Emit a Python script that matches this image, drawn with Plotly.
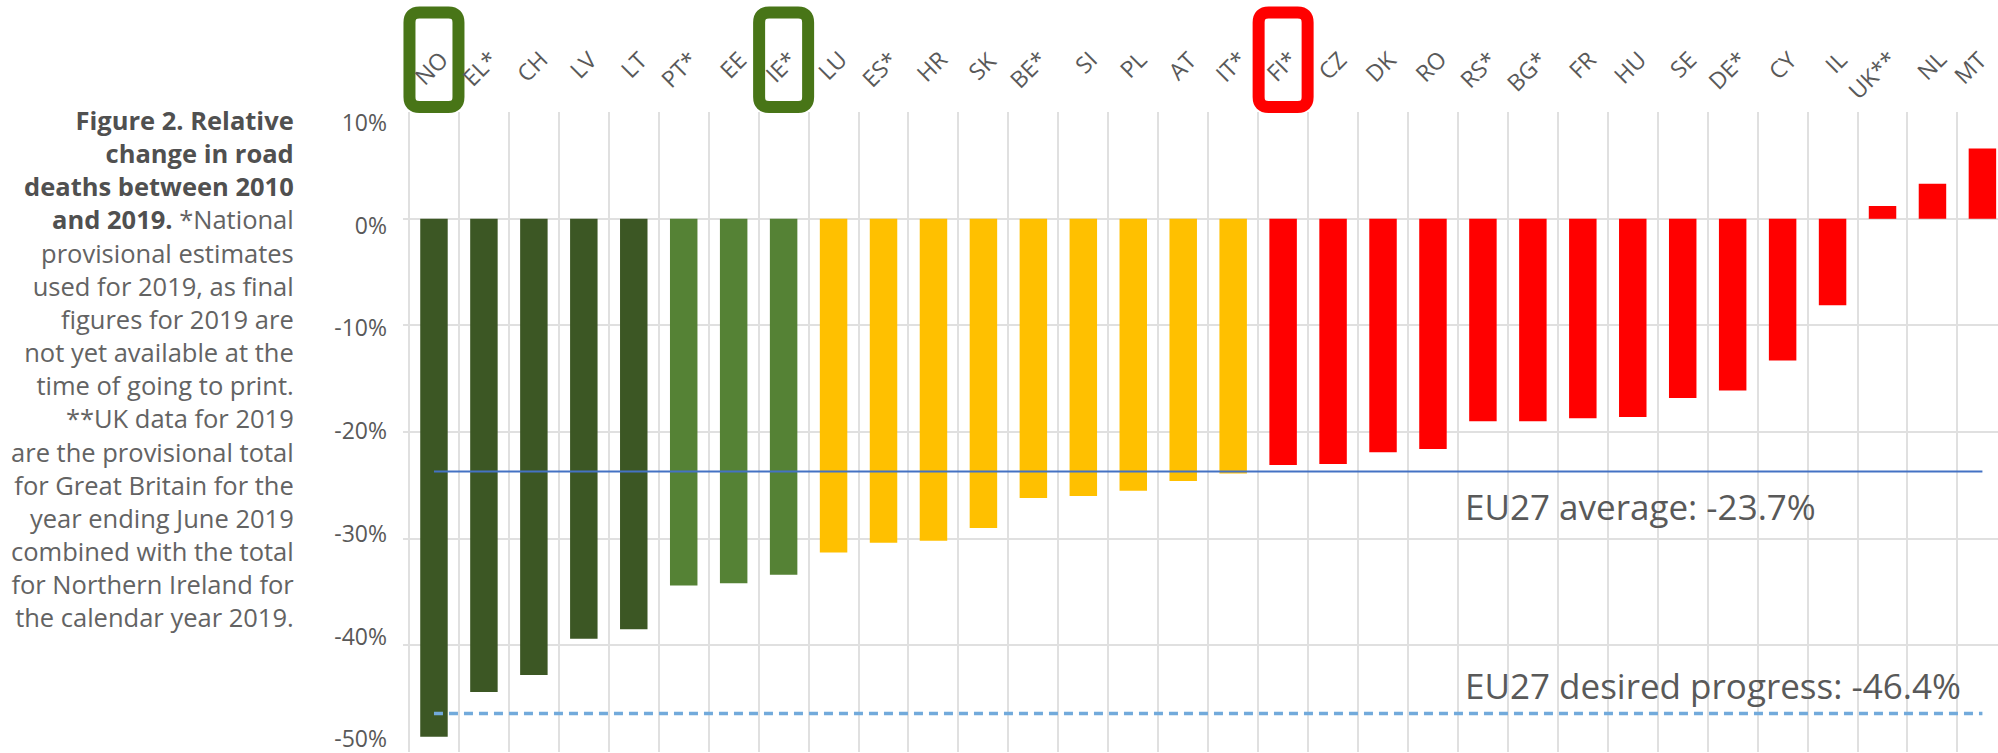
import plotly.graph_objects as go

# ---------------- data ----------------
categories = ["NO", "EL*", "CH", "LV", "LT", "PT*", "EE", "IE*", "LU", "ES*", "HR", "SK",
              "BE*", "SI", "PL", "AT", "IT*", "FI*", "CZ", "DK", "RO", "RS*", "BG*", "FR",
              "HU", "SE", "DE*", "CY", "IL", "UK**", "NL", "MT"]
change_pct = [-48.6, -44.4, -42.8, -39.4, -38.5, -34.4, -34.2, -33.4, -31.3, -30.4, -30.2, -29.0,
              -26.2, -26.0, -25.5, -24.6, -23.9, -23.1, -23.0, -21.9, -21.6, -19.0, -19.0, -18.7,
              -18.6, -16.8, -16.1, -13.3, -8.1, 1.2, 3.3, 6.6]
performance_group = ["top"] * 5 + ["good"] * 3 + ["middle"] * 9 + ["low"] * 15
eu27_average = -23.7
eu27_desired = -46.4
highlight_green = ["NO", "IE*"]
highlight_red = ["FI*"]
y_tick_values = [10, 0, -10, -20, -30, -40, -50]
y_tick_labels = ["10%", "0%", "-10%", "-20%", "-30%", "-40%", "-50%"]

title_bold = ["Figure 2. Relative", "change in road", "deaths between 2010", "and 2019."]
title_rest_first = " *National"
title_lines = ["provisional estimates", "used for 2019, as final", "figures for 2019 are",
               "not yet available at the", "time of going to print.", "**UK data for 2019",
               "are the provisional total", "for Great Britain for the", "year ending June 2019",
               "combined with the total", "for Northern Ireland for", "the calendar year 2019."]

# ---------------- styles ----------------
group_colors = {"top": "#3C5724", "good": "#558235", "middle": "#FFC000", "low": "#FF0000"}
FONT = "Open Sans"
GREY = "#595959"
GRID = "#E0E0E0"

W, H = 1998, 753
ML, MR, MT_, MB = 403, 0, 112, 1
PX_PER_CAT = 49.95
x_start = -0.62
x_end = x_start + (W - ML - MR) / PX_PER_CAT

bar_colors = [group_colors[g] for g in performance_group]

fig = go.Figure()
fig.add_trace(go.Bar(x=categories, y=change_pct, marker=dict(color=bar_colors, line=dict(width=0)),
                     showlegend=False, hoverinfo="x+y"))
fig.add_trace(go.Scatter(x=categories, y=[eu27_average] * len(categories), mode="lines",
                         line=dict(color="#4472C4", width=2), showlegend=False, hoverinfo="skip"))
fig.add_trace(go.Scatter(x=categories, y=[eu27_desired] * len(categories), mode="lines",
                         line=dict(color="#72AADB", width=3.5, dash="9px,6px"),
                         showlegend=False, hoverinfo="skip"))
# carrier trace for the label axis
fig.add_trace(go.Scatter(x=categories, y=[None] * len(categories), yaxis="y2", mode="lines",
                         showlegend=False, hoverinfo="skip"))

annotations = []
# rotated category labels along the top (the last one is kept inside the page edge)
for i, c in enumerate(categories):
    annotations.append(dict(x=c, xref="x", y=1, yref="paper", text=c, showarrow=False,
                            textangle=-45, xanchor="right", yanchor="top",
                            xshift=23 if i < len(categories) - 1 else 14, yshift=71,
                            font=dict(family=FONT, size=23, color=GREY)))

# side caption
bold_part = "<br>".join(title_bold)
caption = ("<span style='color:#505050'><b>" + bold_part + "</b></span>" + title_rest_first +
           "<br>" + "<br>".join(title_lines))
annotations.append(dict(x=(296 - ML) / (W - ML - MR), xref="paper", y=1, yref="paper",
                        yshift=11, xanchor="right", yanchor="top", align="right",
                        text=caption, showarrow=False,
                        font=dict(family=FONT, size=25.5, color="#636363")))

# reference line labels
annotations.append(dict(x=(1463 - ML) / (W - ML - MR), xref="paper", y=eu27_average, yref="y",
                        xanchor="left", yanchor="middle", yshift=-35, showarrow=False,
                        text="EU27 average: -23.7%",
                        font=dict(family=FONT, size=35, color=GREY)))
annotations.append(dict(x=(1463 - ML) / (W - ML - MR), xref="paper", y=eu27_desired, yref="y",
                        xanchor="left", yanchor="middle", yshift=28, showarrow=False,
                        text="EU27 desired progress: -46.4%",
                        font=dict(family=FONT, size=35, color=GREY)))


def rounded_rect(x0, y0, x1, y1, r):
    return (f"M {x0 + r},{y1} L {x1 - r},{y1} Q {x1},{y1} {x1},{y1 - r} "
            f"L {x1},{y0 + r} Q {x1},{y0} {x1 - r},{y0} L {x0 + r},{y0} "
            f"Q {x0},{y0} {x0},{y0 + r} L {x0},{y1 - r} Q {x0},{y1} {x0 + r},{y1} Z")


shapes = []
for cats, col in ((highlight_green, "#487517"), (highlight_red, "#FF0000")):
    for c in cats:
        shapes.append(dict(type="path", xref="x", xsizemode="pixel", xanchor=c,
                           yref="paper", ysizemode="pixel", yanchor=1,
                           path=rounded_rect(-24.5, 5, 24.5, 99.5, 10),
                           line=dict(color=col, width=12), fillcolor="rgba(0,0,0,0)",
                           layer="above"))

fig.update_layout(
    width=W, height=H,
    margin=dict(l=ML, r=MR, t=MT_, b=MB, autoexpand=False),
    paper_bgcolor="white", plot_bgcolor="white",
    bargap=0.45,
    font=dict(family=FONT, color=GREY),
    xaxis=dict(type="category", categoryorder="array", categoryarray=categories,
               range=[x_start, x_end], side="top", showticklabels=False, ticks="",
               tickson="boundaries", showgrid=True, gridcolor=GRID, gridwidth=2,
               showline=False, zeroline=False, fixedrange=True),
    yaxis=dict(range=[-50.02, 10.02], tickvals=y_tick_values, showticklabels=False,
               ticks="", showgrid=True, gridcolor=GRID, gridwidth=2, zeroline=False,
               showline=False, fixedrange=True),
    yaxis2=dict(overlaying="y", side="left", range=[-51.25, 11.07], tickvals=y_tick_values,
                ticktext=y_tick_labels, ticks="", showgrid=False, zeroline=False,
                showline=False, ticklabelstandoff=15, ticklabeloverflow="allow",
                fixedrange=True,
                tickfont=dict(family=FONT, size=23, color=GREY)),
    annotations=annotations,
    shapes=shapes,
)

fig.write_html("out.html",
               config={"displayModeBar": False},
               post_script="document.body.style.margin='0px';"
                           "document.body.style.overflow='hidden';")
